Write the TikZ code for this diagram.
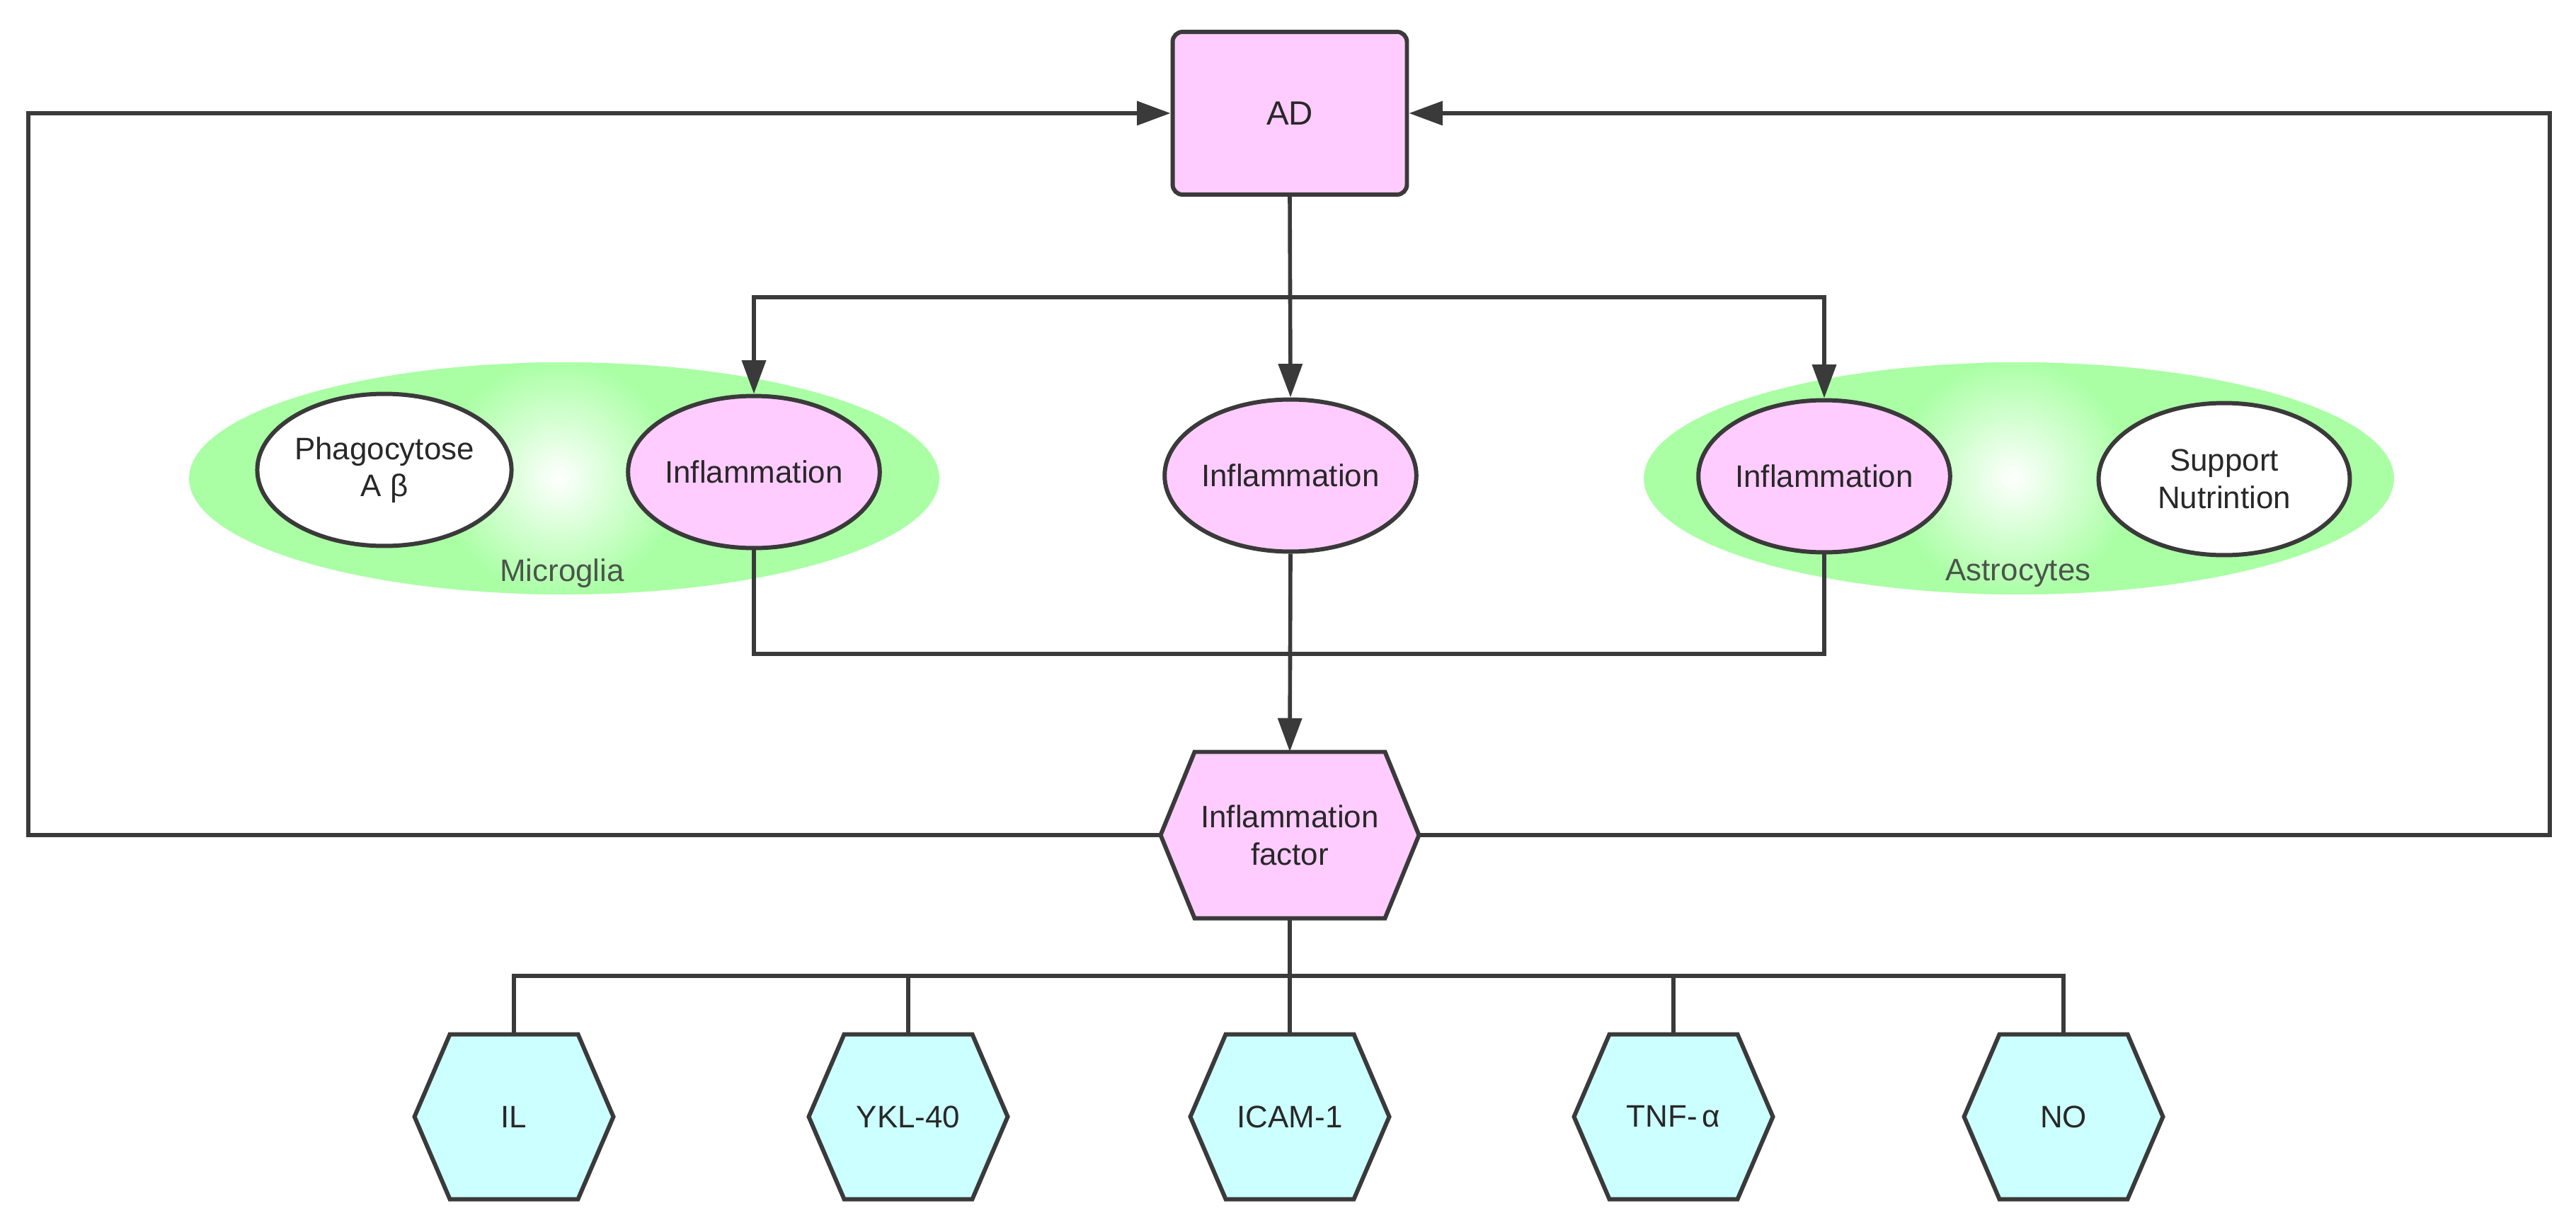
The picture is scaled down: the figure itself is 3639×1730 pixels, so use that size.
\documentclass[tikz,border=0pt]{standalone}
\usepackage{fontspec}
\setmainfont{Liberation Sans}
\usetikzlibrary{shapes.geometric,arrows.meta}
\definecolor{pinkf}{RGB}{255,204,255}
\definecolor{cyanf}{RGB}{204,255,255}
\definecolor{lgreen}{RGB}{170,255,165}
\definecolor{linec}{RGB}{58,58,58}
\definecolor{txt}{RGB}{40,40,40}
\definecolor{gtxt}{RGB}{75,85,75}
\newcommand\hexshape[6]{% x y halfw halfh inset fill
  \filldraw[shapeline,fill=#6,line join=miter] (#1-#3,#2) -- (#1-#3+#5,#2-#4) -- (#1+#3-#5,#2-#4) -- (#1+#3,#2) -- (#1+#3-#5,#2+#4) -- (#1-#3+#5,#2+#4) -- cycle;}
\begin{document}
\begin{tikzpicture}[x=0.02cm,y=-0.02cm,
  conn/.style={draw=linec,line width=3.2pt},
  arr/.style={conn,-{Triangle[length=27pt,width=19pt]}},
  shapeline/.style={draw=linec,line width=3.4pt},
  lbl/.style={font=\fontsize{25}{30}\selectfont,text=txt,align=center},
  oval/.style={ellipse,shapeline,lbl,inner sep=0pt,minimum width=7.1cm,minimum height=4.3cm},
  hexlbl/.style={lbl,draw=none,inner sep=0pt},
  cell/.style={ellipse,fill=lgreen,draw=none,inner sep=0pt,minimum width=21.2cm,minimum height=6.56cm,
    path picture={\foreach \i in {0,...,39}{%
        \pgfmathsetmacro\rr{3.4*(1-\i/40)}%
        \pgfmathsetmacro\pp{100*(1-\i/40)}%
        \fill[lgreen!\pp!white] ([xshift=-0.15cm]path picture bounding box.center) circle (\rr cm);}}},
  celllbl/.style={font=\fontsize{25}{30}\selectfont,text=gtxt},
 ]
\useasboundingbox (0,0) rectangle (3639,1730);

% cells
\node[cell] (micro) at (797,676) {};
\node[cell] (astro) at (2852,676) {};
\node[celllbl] (microlbl) at (794,810) {Microglia};
\node[celllbl] (astrolbl) at (2851,810) {Astrocytes};

% top box
\node[shapeline,fill=pinkf,rounded corners=8pt,minimum width=6.62cm,minimum height=4.6cm,lbl,font=\fontsize{27}{32}\selectfont] (AD) at (1822,160) {AD};

% ovals
\node[oval,fill=white] (phago) at (543,664) {Phagocytose\\A β};
\node[oval,fill=pinkf] (infL) at (1065,667) {Inflammation};
\node[oval,fill=pinkf] (infM) at (1823,672) {Inflammation};
\node[oval,fill=pinkf] (infR) at (2577,673) {Inflammation};
\node[oval,fill=white] (supp) at (3142,677) {Support\\Nutrintion};

% hexagons
\hexshape{1822}{1180}{182.5}{117.5}{48}{pinkf}
\node[hexlbl,minimum width=7.3cm,minimum height=4.7cm] (IF) at (1822,1180) {Inflammation\\factor};
\hexshape{726}{1578}{140.5}{116.5}{50}{cyanf}
\node[hexlbl,minimum width=5.62cm,minimum height=4.66cm] (IL) at (726,1578) {IL};
\hexshape{1283}{1578}{140.5}{116.5}{50}{cyanf}
\node[hexlbl,minimum width=5.62cm,minimum height=4.66cm] (YKL) at (1283,1578) {YKL-40};
\hexshape{1822}{1578}{140.5}{116.5}{50}{cyanf}
\node[hexlbl,minimum width=5.62cm,minimum height=4.66cm] (ICAM) at (1822,1578) {ICAM-1};
\hexshape{2364}{1578}{140.5}{116.5}{50}{cyanf}
\node[hexlbl,minimum width=5.62cm,minimum height=4.66cm] (TNF) at (2364,1578) {TNF-\,α};
\hexshape{2915}{1578}{140.5}{116.5}{50}{cyanf}
\node[hexlbl,minimum width=5.62cm,minimum height=4.66cm] (NO) at (2915,1578) {NO};

% helper coordinates
\coordinate (bus1) at (1822,420);
\coordinate (mrg) at (1822,924);
\coordinate (bb) at (1822,1379);
\coordinate (fl) at (40,0);
\coordinate (fr) at (3602,0);

% connectors
\draw[arr] (AD.south) -- (infM.north);
\draw[arr] (bus1) -| (infL.north);
\draw[arr] (bus1) -| (infR.north);
\draw[conn] (infL.south) |- (mrg) -| (infR.south);
\draw[arr] (infM.south) -- (IF.north);
\draw[arr] (IF.west) -- (IF.west -| fl) |- (AD.west);
\draw[arr] (IF.east) -- (IF.east -| fr) |- (AD.east);
\draw[conn] (IF.south) -- (bb);
\draw[conn,line cap=rect] (IL.north |- bb) -- (NO.north |- bb);
\foreach \n in {IL,YKL,ICAM,TNF,NO} \draw[conn] (\n.north |- bb) -- (\n.north);
\end{tikzpicture}
\end{document}
